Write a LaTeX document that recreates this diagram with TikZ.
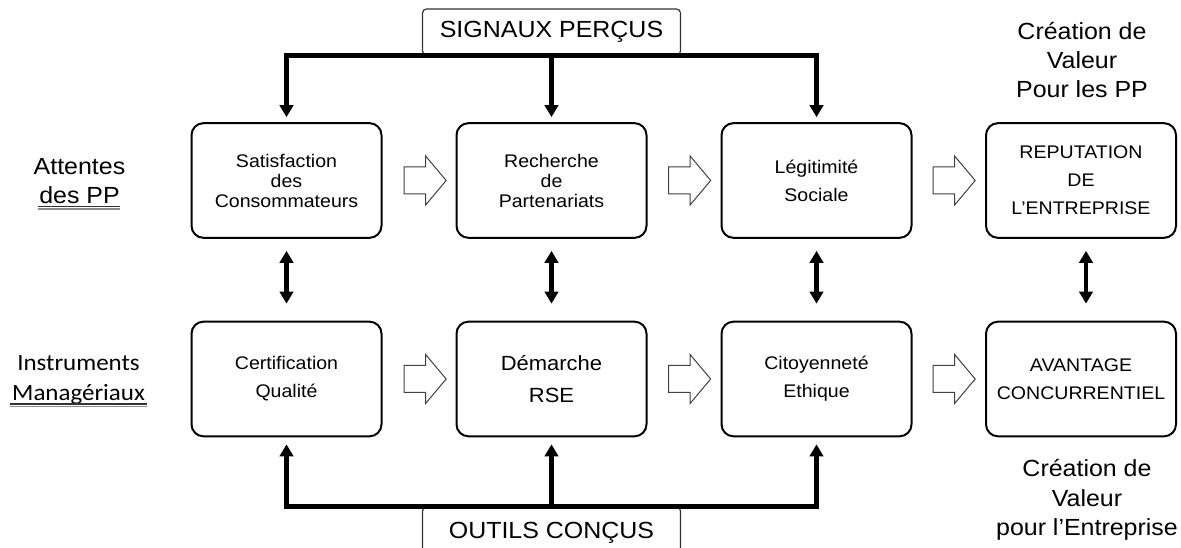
\documentclass[tikz,border=0pt]{standalone}
\usepackage{fontspec}
\setmainfont{Liberation Sans}[FakeStretch=1.07]
\newfontfamily\calibri{Carlito}[FakeStretch=1.07]
\usepackage{tikz}
\usetikzlibrary{shapes.arrows,arrows.meta}
\tikzstyle{bloc}=[draw, rounded corners=9pt, line width=1.5pt, minimum width=142.5pt, minimum height=86pt, align=center, inner sep=0pt]
\tikzstyle{serre}=[font=\fontsize{13.7}{15}\selectfont]
\tikzstyle{aere}=[font=\fontsize{13.7}{21}\selectfont]
\tikzstyle{titre}=[align=center, font=\fontsize{17.5}{22}\selectfont]
\tikzstyle{cadre}=[draw=black!80, line width=0.9pt, rounded corners=3pt, minimum width=193.5pt, inner sep=0pt, font=\fontsize{17.5}{22}\selectfont]
\tikzstyle{lien}=[line width=3.2pt, -{Triangle[length=9pt,width=10pt]}]
\tikzstyle{lien2}=[line width=3.2pt, {Triangle[length=9pt,width=10pt]}-{Triangle[length=9pt,width=10pt]}]
\tikzstyle{fleche}=[single arrow, draw=black!75, line width=0.75pt, fill=white, minimum height=31.5pt, minimum width=36pt, single arrow head extend=8.25pt, single arrow tip angle=100, inner xsep=0pt, inner ysep=9.75pt]

\begin{document}
\begin{tikzpicture}[x=0.75pt, y=-0.75pt]
\useasboundingbox (0,0) rectangle (1181,548);

	% cadres signaux / outils
	\node[cadre, minimum height=34.5pt] (sig) at (551.5,32) {SIGNAUX PERÇUS};
	\node[cadre, minimum height=39pt] (out) at (551.5,533) {OUTILS CONÇUS};

	% ligne des attentes
	\node[bloc, serre] (sat) at (286.5,180.5) {Satisfaction\\des\\Consommateurs};
	\node[bloc, serre] (rec) at (551.5,180.5) {Recherche\\de\\Partenariats};
	\node[bloc, aere] (leg) at (816.5,180.5) {Légitimité\\Sociale};
	\node[bloc, aere] (rep) at (1081,180.5) {REPUTATION\\DE\\L'ENTREPRISE};

	% ligne des instruments
	\node[bloc, aere] (cer) at (286.5,379) {Certification\\Qualité};
	\node[bloc, font=\fontsize{15.4}{24.5}\selectfont] (dem) at (551.5,379) {Démarche\\RSE};
	\node[bloc, aere] (cit) at (816.5,379) {Citoyenneté\\Ethique};
	\node[bloc, aere] (ava) at (1081,379) {AVANTAGE\\CONCURRENTIEL};

	% fleches creuses
	\foreach \x/\y in {419.5/180.5, 684/180.5, 948.5/180.5, 419.5/379, 684/379, 948.5/379}{
		\node[fleche] at (\x,\y) {};
	}

	% textes lateraux
	\node[titre] (att) at (79.5,181) {Attentes\\des PP};
	\draw[line width=0.8pt, black!80] (38,206.5) -- (120,206.5);
	\draw[line width=0.8pt, black!45] (38,209) -- (120,209);
	\node[titre, font=\calibri\fontsize{17.5}{22.5}\selectfont] (ins) at (78.5,380) {Instruments\\Managériaux};
	\draw[line width=0.8pt, black!80] (10,404) -- (147,404);
	\draw[line width=0.8pt, black!45] (10,406.5) -- (147,406.5);
	\node[titre] (vpp) at (1082,60) {Création de\\Valeur\\Pour les PP};
	\node[titre] (ven) at (1087,500) {Création de\\Valeur\\pour l'Entreprise};

	% signaux vers attentes
	\draw[lien, shorten >=3.75pt] (sig.south) -| (sat.north);
	\draw[lien, shorten >=3.75pt] (sig.south) -| (leg.north);
	\draw[lien, shorten >=3.75pt] (sig.south) -- (rec.north);

	% outils vers instruments
	\draw[lien, shorten >=5.25pt] (out.north) -| (cer.south);
	\draw[lien, shorten >=5.25pt] (out.north) -| (cit.south);
	\draw[lien, shorten >=5.25pt] (out.north) -- (dem.south);

	% liens verticaux
	\draw[lien2, shorten <=9pt, shorten >=12.75pt] (sat.south) -- (cer.north);
	\draw[lien2, shorten <=9pt, shorten >=12.75pt] (rec.south) -- (dem.north);
	\draw[lien2, shorten <=9pt, shorten >=12.75pt] (leg.south) -- (cit.north);
	\draw[lien2, shorten <=9pt, shorten >=12.75pt] ([xshift=3.75pt]rep.south) -- ([xshift=3.75pt]ava.north);

\end{tikzpicture}
\end{document}
